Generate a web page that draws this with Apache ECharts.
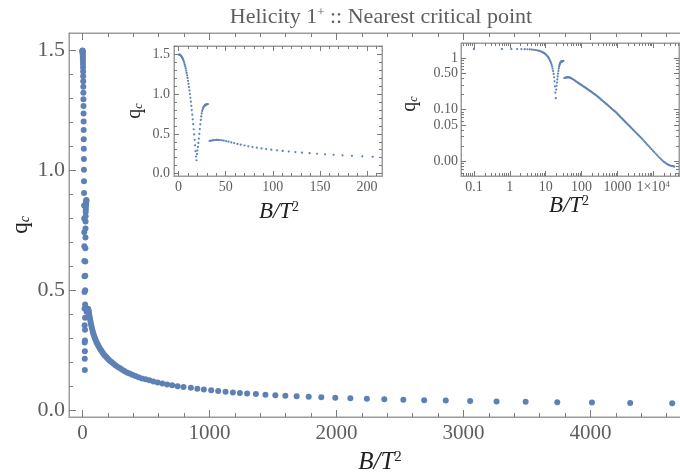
<!DOCTYPE html>
<html><head><meta charset="utf-8">
<script src="https://cdn.jsdelivr.net/npm/echarts@6/dist/echarts.min.js"></script>
<style>html,body{margin:0;padding:0;background:#fff}#c{width:680px;height:474px}</style>
</head><body><div id="c"></div>
<script>
// ---- data: [B/T^2, q_c] ----
const descendingBranch = [
 [0.1,1.500],[0.6,1.499],[1.1,1.497],[1.6,1.494],[2.1,1.490],[2.6,1.484],[3.1,1.477],[3.6,1.468],
 [4.1,1.457],[4.6,1.444],[5.1,1.429],[5.6,1.412],[6.1,1.393],[6.6,1.372],[7.1,1.349],[7.6,1.324],
 [8.1,1.297],[8.6,1.268],[9.1,1.237],[9.6,1.204],[10.1,1.168],[10.6,1.130],[11.1,1.090],[11.6,1.047],
 [12.1,1.002],[12.6,0.955],[13.1,0.905],[13.6,0.853],[14.1,0.799],[14.6,0.742],[15.1,0.683],[15.6,0.622],
 [16.1,0.558],[16.6,0.492],[17.1,0.424],[17.6,0.354],[18.1,0.282],[18.6,0.214],[19.1,0.167]
];
const risingBranch = [
 [19.6,0.245],[20.1,0.290],[20.6,0.335],[21.1,0.385],[21.6,0.440],[22.1,0.500],[22.6,0.560],[23.1,0.620],
 [23.6,0.675],[24.1,0.720],[24.6,0.757],[25.1,0.787],[25.6,0.809],[26.1,0.826],[26.6,0.838],[27.1,0.847],
 [27.6,0.854],[28.1,0.859],[28.6,0.863],[29.1,0.867],[29.6,0.870],[30.1,0.872],[30.6,0.874],[31.1,0.876]
];
const tailBranch = [
 [33.0,0.410],[34.5,0.414],[36.0,0.418],[37.5,0.420],[39.0,0.422],[40.5,0.423],[42.0,0.423],[44.0,0.422],
 [46.0,0.419],[48.0,0.415],[50.5,0.409],[53.0,0.401],[56.0,0.392],[59.0,0.383],[62.5,0.373],[66.0,0.363],
 [70.0,0.353],[74.0,0.343],[78.5,0.334],[83.0,0.325],[88.0,0.316],[93.0,0.308],[98.5,0.300],[104.5,0.292],
 [110.5,0.284],[117.0,0.277],[124.0,0.270],[131.0,0.263],[139.0,0.256],[147.0,0.249],[155.5,0.242],[164.5,0.236],
 [174.0,0.229],[184.0,0.223],[195.0,0.217],[206.0,0.211],[218.0,0.205],[231,0.199],[245,0.193],[260,0.187],
 [276,0.181],[293,0.175],[311,0.169],[330,0.163],[350,0.157],[371,0.152],[393,0.147],[417,0.142],
 [442,0.137],[469,0.132],[497,0.128],[527,0.124],[559,0.119],[593,0.115],[629,0.111],[667,0.107],
 [707,0.103],[750,0.0995],[796,0.0962],[854,0.0930],[905,0.0893],[956,0.0858],[1014,0.0823],[1069,0.0792],
 [1127,0.0763],[1185,0.0736],[1240,0.0713],[1297,0.0690],[1366,0.0665],[1441,0.0640],[1519,0.0617],[1598,0.0595],
 [1687,0.0573],[1782,0.0551],[1881,0.0531],[1991,0.0510],[2110,0.0490],[2240,0.0470],[2377,0.0451],[2527,0.0432],
 [2691,0.0413],[2861,0.0396],[3053,0.0378],[3261,0.0361],[3490,0.0344],[3739,0.0328],[4012,0.0312],[4313,0.0297],
 [4644,0.0282],[5000,0.0266],[5400,0.0251],[5850,0.0236],[6350,0.0222],[6900,0.0208],[7500,0.0196],[8150,0.0184],
 [8900,0.0172],[9700,0.0161],[10600,0.0151],[11600,0.0141],[12700,0.0132],[13900,0.0123],[15200,0.0116],[16600,0.0109],
 [18100,0.0103],[19700,0.0098],[21400,0.0094],[23200,0.0090],[25100,0.0087],[27100,0.0085],[29200,0.0083],[31400,0.0082],
 [33700,0.0081],[36100,0.0080],[38600,0.0079]
];

// ---- tick labels ----
const mainXTicks = [0, 1000, 2000, 3000, 4000];
const mainYTicks = [0, 0.5, 1.0, 1.5];
const inset1XTicks = [0, 50, 100, 150, 200];
const inset1YTicks = [0, 0.5, 1.0, 1.5];
const inset2XTicks = [0.1, 1, 10, 100, 1000, 10000];
const inset2XLabels = ['0.1', '1', '10', '100', '1000', '1\u00d710{sup|4}'];
const inset2YTicks = [1, 0.5, 0.1, 0.05, 0.01];
const inset2YLabels = ['1', '0.50', '0.10', '0.05', '0.00'];

const titleText = 'Helicity 1{sup|+} :: Nearest critical point';

// ---- styling ----
const FONT = 'Liberation Serif';
const FRAME = '#9c9c9c';
const TICK = '#7a7a7a';
const TXT = '#5e5e5e';
const DOT = '#5e81b5';

function linMinors(lo, hi, step, majorStep) {
  const out = [];
  for (let i = Math.round(lo / step); i * step <= hi + 1e-9; i++) {
    const v = +(i * step).toFixed(6);
    if (Math.abs(v / majorStep - Math.round(v / majorStep)) > 1e-6) out.push(v);
  }
  return out;
}
function logMinors(d0, d1, majors) {
  const out = [];
  for (let d = d0; d <= d1; d++) for (let m = 2; m <= 9; m++) {
    const v = +(m * Math.pow(10, d)).toPrecision(6);
    if (!majors.some(t => Math.abs(t - v) / t < 1e-6)) out.push(v);
  }
  return out;
}

const mainXMinor = linMinors(0, 4800, 200, 1000);
const mainYMinor = linMinors(0, 1.5, 0.1, 0.5);
const ins1XMinor = linMinors(0, 215, 10, 50);
const ins1YMinor = linMinors(0, 1.6, 0.1, 0.5);
const ins2XMinor = logMinors(-2, 4, inset2XTicks);
const ins2YMinor = logMinors(-3, 0, inset2YTicks);

function ax(grid, position, type, min, max, ticks, len, label) {
  const a = {
    type: type, gridIndex: grid, position: position, min: min, max: max,
    axisLine: {show: true, onZero: false, lineStyle: {color: FRAME, width: 1}},
    splitLine: {show: false}, splitArea: {show: false},
    axisTick: {show: true, inside: true, length: len, customValues: ticks, lineStyle: {color: TICK, width: 1}},
    axisLabel: {show: false}
  };
  if (type === 'log') a.logBase = 10;
  if (label) {
    a.axisLabel = Object.assign({show: true, customValues: ticks, fontFamily: FONT, color: TXT}, label);
  }
  return a;
}

const lookup = (ticks, labels) => v => {
  const i = ticks.findIndex(t => Math.abs(t - v) / Math.abs(t) < 1e-6);
  return i >= 0 ? labels[i] : '';
};

const mainX = [-105.5, 4792];
const mainY = [-0.029, 1.573];
const ins1X = [-4.8, 215.9];
const ins1Y = [-0.0315, 1.607];
const ins2X = [0.0435, 52000];
const ins2Y = [0.0052, 1.95];

const xAxes = [
  ax(0, 'bottom', 'value', mainX[0], mainX[1], mainXTicks, 7, {fontSize: 21, margin: 6, formatter: v => String(v)}),
  ax(0, 'bottom', 'value', mainX[0], mainX[1], mainXMinor, 4),
  ax(0, 'top', 'value', mainX[0], mainX[1], mainXTicks, 7),
  ax(0, 'top', 'value', mainX[0], mainX[1], mainXMinor, 4),
  ax(1, 'bottom', 'value', ins1X[0], ins1X[1], inset1XTicks, 5, {fontSize: 14, margin: 4, formatter: v => String(v)}),
  ax(1, 'bottom', 'value', ins1X[0], ins1X[1], ins1XMinor, 3),
  ax(1, 'top', 'value', ins1X[0], ins1X[1], inset1XTicks, 5),
  ax(1, 'top', 'value', ins1X[0], ins1X[1], ins1XMinor, 3),
  ax(2, 'bottom', 'log', ins2X[0], ins2X[1], inset2XTicks, 5, {fontSize: 14, margin: 4,
     formatter: lookup(inset2XTicks, inset2XLabels),
     rich: {sup: {fontSize: 9, fontFamily: FONT, color: TXT, verticalAlign: 'top', padding: [0, 0, 6, 0]}}}),
  ax(2, 'bottom', 'log', ins2X[0], ins2X[1], ins2XMinor, 3),
  ax(2, 'top', 'log', ins2X[0], ins2X[1], inset2XTicks, 5),
  ax(2, 'top', 'log', ins2X[0], ins2X[1], ins2XMinor, 3)
];
const yAxes = [
  ax(0, 'left', 'value', mainY[0], mainY[1], mainYTicks, 7, {fontSize: 22, margin: 4, formatter: v => v.toFixed(1)}),
  ax(0, 'left', 'value', mainY[0], mainY[1], mainYMinor, 4),
  ax(1, 'left', 'value', ins1Y[0], ins1Y[1], inset1YTicks, 5, {fontSize: 14, margin: 4, formatter: v => v.toFixed(1)}),
  ax(1, 'left', 'value', ins1Y[0], ins1Y[1], ins1YMinor, 3),
  ax(1, 'right', 'value', ins1Y[0], ins1Y[1], inset1YTicks, 5),
  ax(1, 'right', 'value', ins1Y[0], ins1Y[1], ins1YMinor, 3),
  ax(2, 'left', 'log', ins2Y[0], ins2Y[1], inset2YTicks, 5, {fontSize: 14, margin: 3, formatter: lookup(inset2YTicks, inset2YLabels)}),
  ax(2, 'left', 'log', ins2Y[0], ins2Y[1], ins2YMinor, 3),
  ax(2, 'right', 'log', ins2Y[0], ins2Y[1], inset2YTicks, 5),
  ax(2, 'right', 'log', ins2Y[0], ins2Y[1], ins2YMinor, 3)
];

const allPoints = descendingBranch.concat(risingBranch, tailBranch);

function gridBox(l, t, w, h) {
  return {left: l, top: t, width: w, height: h, show: true, borderColor: FRAME, borderWidth: 1,
          backgroundColor: 'transparent', containLabel: false, outerBoundsMode: 'none'};
}

const qcLabel = (x, y, size) => ({
  type: 'text', x: x, y: y, rotation: Math.PI / 2, z: 100,
  style: {text: 'q{sub|c}', fontFamily: FONT, fontSize: size, fill: '#222', align: 'center', verticalAlign: 'middle',
          rich: {sub: {fontSize: Math.round(size * 0.6), fontFamily: FONT, fontStyle: 'italic', fill: '#222', verticalAlign: 'bottom'}}}
});
const btLabel = (x, y, size) => ({
  type: 'text', x: x, y: y, z: 100,
  style: {text: 'B/T{sup|2}', fontFamily: FONT, fontStyle: 'italic', fontSize: size, fill: '#222', align: 'center', verticalAlign: 'middle',
          rich: {sup: {fontSize: Math.round(size * 0.6), fontFamily: FONT, fill: '#222', verticalAlign: 'top'}}}
});

const chart = echarts.init(document.getElementById('c'), null, {renderer: 'canvas'});
chart.setOption({
  animation: false,
  backgroundColor: '#fff',
  grid: [gridBox(69, 33, 622, 384), gridBox(174, 46, 208, 130), gridBox(461, 43, 218, 133)],
  xAxis: xAxes,
  yAxis: yAxes,
  series: [
    {type: 'scatter', xAxisIndex: 0, yAxisIndex: 0, data: allPoints, symbolSize: 6, clip: true,
     itemStyle: {color: DOT, opacity: 1}, emphasis: {disabled: true}, z: 2},
    {type: 'scatter', xAxisIndex: 4, yAxisIndex: 2, data: allPoints, symbolSize: 2.2, clip: true,
     itemStyle: {color: DOT, opacity: 1}, emphasis: {disabled: true}, z: 2},
    {type: 'scatter', xAxisIndex: 8, yAxisIndex: 6, data: allPoints, symbolSize: 2.2, clip: true,
     itemStyle: {color: DOT, opacity: 1}, emphasis: {disabled: true}, z: 2}
  ],
  graphic: [
    {type: 'text', x: 381, y: 17, z: 100,
     style: {text: titleText, fontFamily: FONT, fontSize: 22, fill: TXT, align: 'center', verticalAlign: 'middle',
             rich: {sup: {fontSize: 13, fontFamily: FONT, fill: TXT, verticalAlign: 'top'}}}},
    qcLabel(21, 225, 23),
    btLabel(380, 462, 25),
    qcLabel(135, 111, 20),
    btLabel(279, 212, 23),
    qcLabel(410, 104, 20),
    btLabel(569, 206, 23)
  ]
});
</script>
</body></html>
